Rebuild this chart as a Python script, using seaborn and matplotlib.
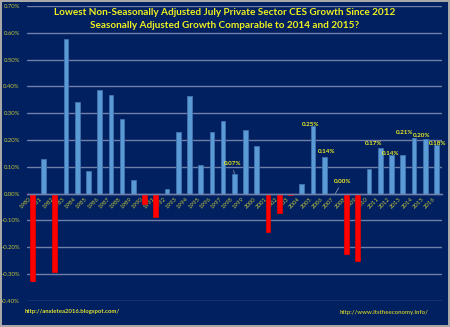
import matplotlib
matplotlib.use("Agg")
import matplotlib.pyplot as plt
import seaborn as sns
import pandas as pd
import numpy as np

years = ["1980", "1981", "1982", "1983", "1984", "1985", "1986", "1987", "1988", "1989",
         "1990", "1991", "1992", "1993", "1994", "1995", "1996", "1997", "1998", "1999",
         "2000", "2001", "2002", "2003", "2004", "2005", "2006", "2007", "2008", "2009",
         "2010", "2011", "2012", "2013", "2014", "2015", "2016"]
growth = [-0.325, 0.128, -0.292, 0.576, 0.342, 0.085, 0.387, 0.367, 0.278, 0.052,
          -0.038, -0.086, 0.018, 0.229, 0.365, 0.106, 0.229, 0.271, 0.073, 0.238,
          0.177, -0.144, -0.073, -0.005, 0.035, 0.253, 0.137, 0.000, -0.225, -0.252,
          0.093, 0.169, 0.143, 0.143, 0.209, 0.204, 0.181]
labelled_years = ["1998", "2005", "2006", "2007", "2011", "2012", "2014", "2015", "2016"]
title_lines = ["Lowest Non-Seasonally Adjusted July Private Sector CES Growth Since 2012",
               "Seasonally Adjusted Growth Comparable to 2014 and 2015?"]
yticks = [-0.4, -0.3, -0.2, -0.1, 0.0, 0.1, 0.2, 0.3, 0.4, 0.5, 0.6, 0.7]

BG = "#002060"
BLUE = "#5B9BD5"
BLUE_EDGE = "#3F73B0"
RED = "#FF0000"
GRID = "#6F7FA8"
TICK = "#C4C43A"
YEL = "#F0F020"

sns.set_style("dark")
plt.rcParams["font.family"] = ["Lato", "DejaVu Sans"]

df = pd.DataFrame({"year": years, "growth": growth,
                   "sign": ["neg" if v < 0 else "pos" for v in growth]})

fig = plt.figure(figsize=(4.5, 3.27), dpi=100)
fig.patch.set_facecolor(BG)
fig.patch.set_edgecolor("#A8A8A8")
fig.patch.set_linewidth(1.5)
ax = fig.add_axes([26.7 / 450, 1 - 300.7 / 327, (442 - 26.7) / 450, (300.7 - 6) / 327])
ax.set_facecolor(BG)

sns.barplot(data=df, x="year", y="growth", hue="sign",
            palette={"pos": BLUE, "neg": RED}, dodge=False, width=0.42,
            legend=False, ax=ax, saturation=1)
for p in ax.patches:
    if p.get_height() < 0:
        p.set_edgecolor("#E00000")
    else:
        p.set_edgecolor(BLUE_EDGE)
    p.set_linewidth(0.6)

ax.set_xlim(-0.5, len(years) - 0.5)
ax.set_ylim(-0.40, 0.70)
ax.set_yticks(yticks)
ax.set_yticklabels([f"{v:.2f}%" for v in yticks])
ax.yaxis.grid(True, color=GRID, lw=1.0)
ax.xaxis.grid(False)
ax.set_axisbelow(True)
for s in ["top", "right", "left"]:
    ax.spines[s].set_visible(False)
ax.spines["bottom"].set_position(("data", 0))
ax.spines["bottom"].set_color(GRID)
ax.spines["bottom"].set_linewidth(1.0)
ax.set_xlabel("")
ax.set_ylabel("")
ax.tick_params(axis="y", length=0, pad=5, labelsize=4.3, labelcolor=TICK)
ax.tick_params(axis="x", length=0, pad=2, labelsize=4.3, labelcolor=TICK)
for lbl in ax.get_xticklabels():
    lbl.set_rotation(45)
    lbl.set_ha("right")
    lbl.set_va("top")
    lbl.set_zorder(5)

# data labels (offsets in pixels)
offsets = {"1998": (-2, 10), "2005": (-2, 1), "2006": (2, 5), "2007": (7, 12),
           "2011": (-6.5, 4.6), "2012": (-1, 2), "2014": (-9, 5), "2015": (-3.5, 3.7),
           "2016": (1, 1.8)}
leader = {"1998", "2007"}
for y in labelled_years:
    i = years.index(y)
    v = growth[i]
    dx, dy = offsets[y]
    kw = {}
    if y in leader:
        kw["arrowprops"] = dict(arrowstyle="-", color="#8C96B4", lw=0.6,
                                shrinkA=0.5, shrinkB=0)
    ax.annotate(f"{v:.2f}%", xy=(i, v), xytext=(dx, dy), textcoords="offset pixels",
                ha="center", va="center", fontsize=4.5, color=YEL,
                fontweight="bold", zorder=6, **kw)

fig.text(0.5, 1 - 12.8 / 327, title_lines[0], ha="center", va="center",
         fontsize=7.2, fontweight="bold", color=YEL)
fig.text(0.5, 1 - 25 / 327, title_lines[1], ha="center", va="center",
         fontsize=7.2, fontweight="bold", color=YEL)

fig.text(25 / 450, 1 - 311.7 / 327, "http://anxietea2016.blogspot.com/",
         ha="left", va="center", fontsize=4.3, color="#E0E030", fontweight="bold")
fig.text(428 / 450, 1 - 312.7 / 327, "http://www.itstheeconomy.info/",
         ha="right", va="center", fontsize=4.3, color="#BDBD30", fontweight="bold")

fig.savefig("out.png", dpi=100, facecolor=BG, edgecolor=fig.patch.get_edgecolor())
